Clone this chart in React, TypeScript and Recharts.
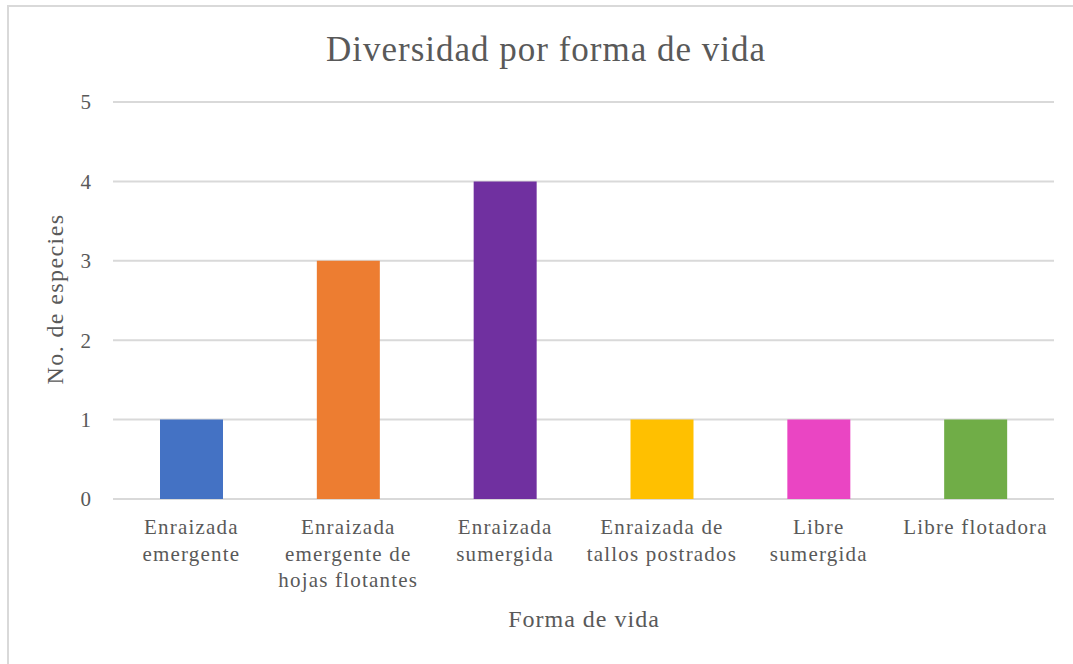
import { BarChart, Bar, XAxis, YAxis, CartesianGrid, Cell } from "recharts";

const CATEGORIES = [
  "Enraizada emergente",
  "Enraizada emergente de hojas flotantes",
  "Enraizada sumergida",
  "Enraizada de tallos postrados",
  "Libre sumergida",
  "Libre flotadora",
];

// how the category labels wrap under the axis
const LABEL_LINES: string[][] = [
  ["Enraizada", "emergente"],
  ["Enraizada", "emergente de", "hojas flotantes"],
  ["Enraizada", "sumergida"],
  ["Enraizada de", "tallos postrados"],
  ["Libre", "sumergida"],
  ["Libre flotadora"],
];

const SPECIES = [1, 3, 4, 1, 1, 1];
const BAR_COLORS = ["#4472C4", "#ED7D31", "#7030A0", "#FFC000", "#EA45C3", "#70AD47"];
const Y_TICKS = [0, 1, 2, 3, 4, 5];

const FONT = "'Liberation Serif', 'Times New Roman', serif";
const TEXT = "#595959";
const GRID = "#d9d9d9";

const data = CATEGORIES.map((name, i) => ({ name, value: SPECIES[i] }));

function CategoryTick(props: any) {
  const { x, y, payload } = props;
  const lines = LABEL_LINES[payload.index] ?? [String(payload.value)];
  return (
    <text
      x={x}
      y={y}
      textAnchor="middle"
      fill={TEXT}
      style={{ fontFamily: FONT, fontSize: 21, letterSpacing: 1.2 }}
    >
      {lines.map((l, i) => (
        <tspan key={i} x={x} y={y + 35 + i * 26.5}>
          {l}
        </tspan>
      ))}
    </text>
  );
}

export default function App() {
  return (
    <div
      style={{
        position: "absolute",
        left: 0,
        top: 0,
        width: 1073,
        height: 664,
        overflow: "hidden",
        background: "#fff",
      }}
    >
      <div
        style={{
          position: "absolute",
          left: 7,
          top: 5,
          width: 1100,
          height: 700,
          border: `2px solid ${GRID}`,
        }}
      />
      <BarChart
        width={1073}
        height={664}
        data={data}
        margin={{ top: 102, right: 19, bottom: 0, left: 0 }}
        style={{ position: "absolute", left: 0, top: 0 }}
      >
        <CartesianGrid vertical={false} stroke={GRID} strokeWidth={2} />
        <XAxis
          dataKey="name"
          height={165}
          axisLine={false}
          tickLine={false}
          tickSize={0}
          tickMargin={0}
          interval={0}
          tick={<CategoryTick />}
        />
        <YAxis
          width={113}
          domain={[0, 5]}
          ticks={Y_TICKS}
          axisLine={false}
          tickLine={false}
          tickSize={0}
          tickMargin={22}
          tick={{ fill: TEXT, fontSize: 21, fontFamily: FONT }}
        />
        <Bar dataKey="value" barSize={63} isAnimationActive={false}>
          {data.map((d, i) => (
            <Cell key={d.name} fill={BAR_COLORS[i]} />
          ))}
        </Bar>
        <text
          x={546}
          y={61}
          textAnchor="middle"
          fill={TEXT}
          style={{ fontFamily: FONT, fontSize: 35, letterSpacing: 1 }}
        >
          Diversidad por forma de vida
        </text>
        <text
          x={63}
          y={299}
          textAnchor="middle"
          fill={TEXT}
          transform="rotate(-90, 63, 299)"
          style={{ fontFamily: FONT, fontSize: 24, letterSpacing: 1.4 }}
        >
          No. de especies
        </text>
        <text
          x={584}
          y={627}
          textAnchor="middle"
          fill={TEXT}
          style={{ fontFamily: FONT, fontSize: 24, letterSpacing: 1 }}
        >
          Forma de vida
        </text>
      </BarChart>
    </div>
  );
}
